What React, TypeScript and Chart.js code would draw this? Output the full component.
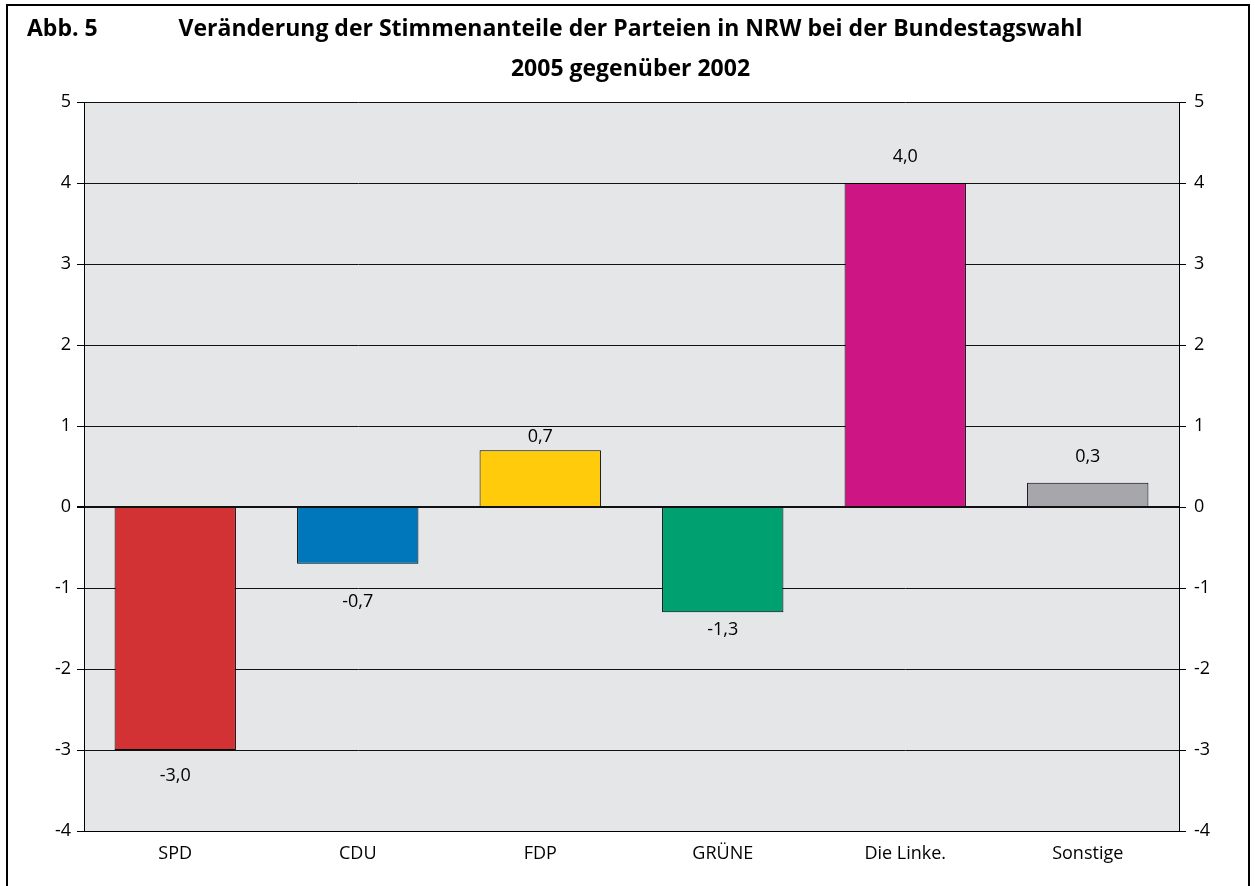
import React, { useEffect, useRef } from "react";
import { Chart, registerables } from "chart.js";

Chart.register(...registerables);

const categories = ["SPD", "CDU", "FDP", "GRÜNE", "Die Linke.", "Sonstige"];
const changes = [-3.0, -0.7, 0.7, -1.3, 4.0, 0.3];
const barColors = ["#D33235", "#0077BB", "#FFCB0A", "#00A070", "#CE1584", "#A6A6AB"];
const yTicks = [-4, -3, -2, -1, 0, 1, 2, 3, 4, 5];
const titleLabel = "Abb. 5";
const titleLine1 = "Veränderung der Stimmenanteile der Parteien in NRW bei der Bundestagswahl";
const titleLine2 = "2005 gegenüber 2002";

const FONT = '"Open Sans", "DejaVu Sans", sans-serif';

const framePlugin = {
  id: "frame",
  beforeDraw(chart: any) {
    const { ctx, chartArea: a, width, height } = chart;
    ctx.save();
    ctx.fillStyle = "#ffffff";
    ctx.fillRect(0, 0, width, height);
    ctx.fillStyle = "#E5E6E8";
    ctx.fillRect(a.left, a.top, a.right - a.left, a.bottom - a.top);
    ctx.strokeStyle = "#000";
    ctx.lineWidth = 2;
    ctx.strokeRect(7, 5, width - 13, height + 20);
    ctx.fillStyle = "#000";
    ctx.font = `bold 23px ${FONT}`;
    ctx.textBaseline = "alphabetic";
    ctx.textAlign = "left";
    ctx.fillText(titleLabel, 27, 36);
    ctx.textAlign = "center";
    const cx = 630.5;
    ctx.fillText(titleLine1, cx, 36);
    ctx.fillText(titleLine2, cx, 76);
    ctx.restore();
  },
};

const labelOffsets = [26, 38, 13, 18, 26, 26];

const valueLabelPlugin = {
  id: "valueLabels",
  afterDatasetsDraw(chart: any) {
    const { ctx } = chart;
    const meta = chart.getDatasetMeta(0);
    const data = chart.data.datasets[0].data as number[];
    ctx.save();
    ctx.font = `18px ${FONT}`;
    ctx.fillStyle = "#000";
    ctx.textAlign = "center";
    ctx.textBaseline = "middle";
    meta.data.forEach((bar: any, i: number) => {
      const v = data[i];
      const off = labelOffsets[i] ?? 26;
      const y = v >= 0 ? bar.y - off : bar.y + off;
      ctx.fillText(v.toFixed(1).replace(".", ","), bar.x, y);
    });
    ctx.restore();
  },
};

export default function App() {
  const ref = useRef<HTMLCanvasElement | null>(null);
  useEffect(() => {
    if (!ref.current) return;
    const tickFont = { family: FONT, size: 18 };
    const chart = new Chart(ref.current, {
      type: "bar",
      data: {
        labels: categories,
        datasets: [
          {
            data: changes,
            backgroundColor: barColors,
            borderColor: "#000",
            borderWidth: 1,
            categoryPercentage: 1,
            barPercentage: 0.665,
          },
        ],
      },
      options: {
        responsive: false,
        animation: false,
        events: [],
        layout: { padding: { top: 102, left: 0, right: 0, bottom: 0 } },
        plugins: { legend: { display: false }, tooltip: { enabled: false }, title: { display: false } },
        scales: {
          x: {
            grid: { display: false, drawTicks: false },
            border: { display: true, color: "#000", width: 1 },
            ticks: { font: tickFont, color: "#000", padding: 12, maxRotation: 0 },
            afterFit(s: any) {
              s.height = 55;
            },
          },
          y: {
            position: "left",
            min: -4,
            max: 5,
            afterBuildTicks(s: any) {
              s.ticks = yTicks.map((v) => ({ value: v }));
            },
            grid: {
              color: "#111",
              tickColor: "#000",
              tickLength: 7,
              lineWidth: (c: any) => (c.tick && c.tick.value === 0 ? 2 : 1),
            },
            border: { display: true, color: "#000", width: 1 },
            ticks: { font: tickFont, color: "#000", padding: 6, callback: (v: any) => String(v) },
            afterFit(s: any) {
              s.width = 84;
            },
          },
          y2: {
            position: "right",
            min: -4,
            max: 5,
            afterBuildTicks(s: any) {
              s.ticks = yTicks.map((v) => ({ value: v }));
            },
            grid: { drawOnChartArea: false, tickColor: "#000", tickLength: 7 },
            border: { display: true, color: "#000", width: 1 },
            ticks: { font: tickFont, color: "#000", padding: 8, callback: (v: any) => String(v) },
            afterFit(s: any) {
              s.width = 76;
            },
          },
        },
      },
      plugins: [framePlugin, valueLabelPlugin],
    } as any);
    document.fonts?.load(`bold 23px "Open Sans"`).then(() => chart.update()).catch(() => {});
    return () => chart.destroy();
  }, []);
  return (
    <div style={{ position: "absolute", left: 0, top: 0, width: 1255, height: 886 }}>
      <canvas ref={ref} width={1255} height={886} style={{ display: "block" }} />
    </div>
  );
}
